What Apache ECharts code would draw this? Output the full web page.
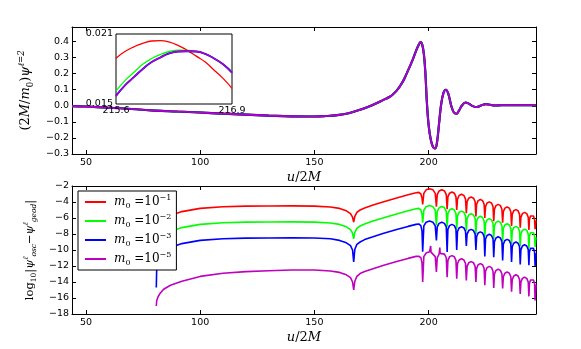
<!DOCTYPE html>
<html><head><meta charset="utf-8">
<script src="https://cdn.jsdelivr.net/npm/echarts@6/dist/echarts.min.js"></script>
<style>html,body{margin:0;padding:0;background:#fff}#c{width:581px;height:349px}</style>
</head><body><div id="c"></div>
<script>
// ---------- labels / categories ----------
const seriesNames = ['m0=1e-1', 'm0=1e-2', 'm0=1e-3', 'm0=1e-5'];
const legendExp = ['\u22121', '\u22122', '\u22123', '\u22125'];
const seriesColors = ['#ff0000', '#00ff00', '#0000ff', '#bf00bf'];
const xTicks = [50, 100, 150, 200];
const waveYTicks = [-0.3, -0.2, -0.1, 0, 0.1, 0.2, 0.3, 0.4];
const errYTicks = [-18, -16, -14, -12, -10, -8, -6, -4, -2];
const insetXTicks = [215.6, 216.9];
const insetYTicks = [0.015, 0.021];

// ---------- top panel: waveform (all four curves coincide) ----------
const waveU = [43.9, 50, 60, 70, 80, 90, 100, 110, 120, 130, 140, 150, 155, 160, 165, 170, 175, 180, 183, 184.5, 186, 187.5,
  189, 190, 191, 192, 193, 194.2, 195.5, 196.5, 197.3, 198, 198.6, 199.2, 200, 201, 202, 202.9, 203.7, 204.5, 205.4,
  206.5, 207.6, 208.7, 209.9, 211, 212.2, 213.3, 214.5, 216.1, 217.6, 219.3, 221, 223, 225, 227, 229, 232, 247];
const waveVal = [-0.002, -0.005, -0.012, -0.020, -0.030, -0.036, -0.042, -0.049, -0.055, -0.061, -0.066, -0.067, -0.064, -0.058, -0.046, -0.025, 0.002, 0.035, 0.056, 0.073, 0.094, 0.123,
  0.158, 0.188, 0.22, 0.252, 0.285, 0.33, 0.375, 0.396, 0.375, 0.31, 0.2, 0.03, -0.12, -0.215, -0.258, -0.265, -0.225, -0.12, 0.0,
  0.08, 0.1, 0.07, 0.0, -0.04, -0.05, -0.03, 0.0, 0.0205, 0.013, -0.002, -0.008, 0.002, 0.010, 0.006, 0.002, 0.003, 0.003];

// ---------- inset ----------
const insetU = [215.6, 215.7, 215.8, 215.9, 216.0, 216.1, 216.2, 216.3, 216.4, 216.5, 216.6, 216.7, 216.8, 216.9];
const insetRed = [0.01893, 0.0195, 0.0199, 0.0202, 0.0204, 0.02043, 0.0203, 0.0200, 0.0196, 0.0191, 0.0186, 0.0179, 0.0172, 0.01634];
const insetGreen = [0.01610, 0.0170, 0.0177, 0.0184, 0.0189, 0.01925, 0.0195, 0.01962, 0.0196, 0.0195, 0.0193, 0.0189, 0.0184, 0.01778];
const insetBlue = [0.01570, 0.0166, 0.0173, 0.0180, 0.0186, 0.0190, 0.01935, 0.0195, 0.01952, 0.0195, 0.0193, 0.0189, 0.0184, 0.01768];
const insetMag = [0.01568, 0.0166, 0.0173, 0.0180, 0.0186, 0.0190, 0.01935, 0.0195, 0.01952, 0.0195, 0.0193, 0.0189, 0.0184, 0.01766];

// ---------- bottom panel: log10 |psi_osc - psi_geod| ----------
const errU = [
  80.8, 81.0, 81.5, 82.5, 84, 87, 92, 100, 110, 120, 130, 140, 150,
  157, 161, 164, 165.8, 166.7, 167.2, 167.7, 168.6, 170, 172, 176,
  180, 180.4, 180.8, 186, 186.4, 186.8, 191, 194.5, 195.3, 195.7, 196.6, 197.1,
  197.4, 197.9, 198.9, 200.4, 200.75, 200.9, 201.05, 201.9, 202.9,
  203.4, 203.78, 204.58, 204.75, 204.9, 205.05, 205.75, 206.93, 207.72,
  208.1, 208.44, 209.15, 210.2, 211.25, 211.96,
  212.3, 212.64, 213.35, 214.4, 215.45, 216.16,
  216.5, 216.84, 217.55, 218.6, 219.65, 220.36,
  220.7, 221.01, 221.68, 222.65, 223.63, 224.29,
  224.6, 224.91, 225.58, 226.55, 227.53, 228.19,
  228.5, 228.81, 229.48, 230.45, 231.43, 232.09,
  232.4, 232.71, 233.38, 234.35, 235.33, 235.99,
  236.3, 236.6, 237.25, 238.2, 239.15, 239.8,
  240.1, 240.4, 241.05, 242.0, 242.95, 243.6,
  243.9, 244.12, 244.58, 245.25, 245.92, 246.38,
  246.6, 247.0];
const errRed = [
  -9.0, -7.6, -7.0, -6.6, -6.2, -5.7, -5.2, -4.8, -4.6, -4.52, -4.5, -4.49, -4.52,
  -4.62, -4.8, -5.1, -5.45, -5.9, -6.5, -5.8, -5.3, -5.0, -4.75, -4.35,
  -4.0, -3.97, -3.94, -3.5, -3.47, -3.44, -3.1, -2.85, -2.8, -2.8, -3.0, -3.5,
  -4.3, -2.93, -2.48, -2.33, -2.34, -2.35, -2.36, -2.48, -2.93,
  -4.6, -3.07, -2.62, -2.58, -2.55, -2.52, -2.47, -2.62, -3.07,
  -4.9, -3.35, -2.9, -2.75, -2.9, -3.35,
  -5.0, -3.64, -3.19, -3.04, -3.19, -3.64,
  -5.4, -3.97, -3.52, -3.37, -3.52, -3.97,
  -5.8, -4.28, -3.83, -3.68, -3.83, -4.28,
  -6.0, -4.58, -4.13, -3.98, -4.13, -4.58,
  -6.4, -4.9, -4.45, -4.3, -4.45, -4.9,
  -6.6, -5.22, -4.77, -4.62, -4.77, -5.22,
  -7.0, -5.55, -5.1, -4.95, -5.1, -5.55,
  -7.2, -5.9, -5.45, -5.3, -5.45, -5.9,
  -7.5, -6.2, -5.75, -5.6, -5.75, -6.2,
  -7.4, -6.3];
const errGreen = [
  -11.0, -9.6, -9.0, -8.6, -8.2, -7.7, -7.2, -6.8, -6.6, -6.52, -6.5, -6.49, -6.52,
  -6.62, -6.8, -7.1, -7.45, -7.9, -8.6, -7.8, -7.3, -7.0, -6.75, -6.35,
  -6.0, -5.97, -5.94, -5.5, -5.47, -5.44, -5.1, -4.85, -4.8, -4.8, -5.0, -5.5,
  -6.6, -5.03, -4.58, -4.43, -4.44, -4.45, -4.46, -4.58, -5.03,
  -6.9, -5.17, -4.72, -4.68, -4.65, -4.62, -4.57, -4.72, -5.17,
  -7.1, -5.45, -5.0, -4.85, -5.0, -5.45,
  -7.3, -5.74, -5.29, -5.14, -5.29, -5.74,
  -7.6, -6.07, -5.62, -5.47, -5.62, -6.07,
  -8.0, -6.38, -5.93, -5.78, -5.93, -6.38,
  -8.3, -6.68, -6.23, -6.08, -6.23, -6.68,
  -8.6, -7.0, -6.55, -6.4, -6.55, -7.0,
  -8.9, -7.32, -6.87, -6.72, -6.87, -7.32,
  -9.2, -7.65, -7.2, -7.05, -7.2, -7.65,
  -9.5, -8.0, -7.55, -7.4, -7.55, -8.0,
  -9.8, -8.3, -7.85, -7.7, -7.85, -8.3,
  -9.6, -8.4];
const errBlue = [
  -14.7, -12.0, -11.1, -10.6, -10.2, -9.7, -9.2, -8.8, -8.6, -8.52, -8.5, -8.48, -8.5,
  -8.6, -8.8, -9.1, -9.45, -10.0, -11.5, -9.9, -9.3, -9.0, -8.7, -8.3,
  -7.95, -7.92, -7.89, -7.45, -7.42, -7.39, -7.05, -6.8, -6.75, -6.75, -6.95, -7.6,
  -10.2, -6.98, -6.53, -6.38, -6.39, -6.4, -6.41, -6.53, -6.98,
  -8.8, -7.12, -6.67, -6.63, -6.6, -6.57, -6.52, -6.67, -7.12,
  -10.25, -7.4, -6.95, -6.8, -6.95, -7.4,
  -10.0, -7.69, -7.24, -7.09, -7.24, -7.69,
  -9.5, -8.02, -7.57, -7.42, -7.57, -8.02,
  -10.0, -8.33, -7.88, -7.73, -7.88, -8.33,
  -10.8, -8.63, -8.18, -8.03, -8.18, -8.63,
  -10.9, -8.95, -8.5, -8.35, -8.5, -8.95,
  -11.3, -9.27, -8.82, -8.67, -8.82, -9.27,
  -11.5, -9.6, -9.15, -9.0, -9.15, -9.6,
  -11.8, -9.95, -9.5, -9.35, -9.5, -9.95,
  -11.9, -10.25, -9.8, -9.65, -9.8, -10.25,
  -12.0, -10.4];
const errMag = [
  -17.0, -16.3, -15.9, -15.4, -14.9, -14.4, -13.9, -13.3, -12.9, -12.7, -12.6, -12.5, -12.5,
  -12.62, -12.8, -13.1, -13.45, -14.0, -15.0, -13.9, -13.3, -12.95, -12.7, -12.3,
  -11.95, -11.78, -11.9, -11.45, -11.28, -11.42, -11.05, -10.8, -10.55, -10.78, -10.95, -11.6,
  -14.0, -10.83, -10.38, -10.23, -10.25, -9.5, -10.27, -10.38, -10.83,
  -12.75, -10.97, -10.52, -10.48, -9.7, -10.42, -10.37, -10.52, -10.97,
  -13.4, -11.3, -10.85, -10.7, -10.85, -11.3,
  -13.6, -11.7, -11.25, -11.1, -11.25, -11.7,
  -13.8, -12.05, -11.6, -11.45, -11.6, -12.05,
  -14.0, -12.3, -11.85, -11.7, -11.85, -12.3,
  -14.4, -12.65, -12.2, -12.05, -12.2, -12.65,
  -14.75, -13.0, -12.55, -12.4, -12.55, -13.0,
  -14.8, -13.35, -12.9, -12.75, -12.9, -13.35,
  -15.2, -13.7, -13.25, -13.1, -13.25, -13.7,
  -15.5, -14.0, -13.55, -13.4, -13.55, -14.0,
  -15.8, -14.2, -13.75, -13.6, -13.75, -14.2,
  -16.3, -14.3];

// ---------- build chart ----------
const zip = (xs, ys) => xs.map((x, i) => [x, ys[i]]);
const minus = s => String(s).replace('-', '\u2212');
const TICKFONT = {fontFamily: 'DejaVu Sans', fontSize: 9.5, color: '#000'};
function mathRich(sz) {
  const sm = Math.round(sz * 0.65 * 2) / 2;
  return {
    r: {fontFamily: 'DejaVu Serif', fontSize: sz, lineHeight: sz + 5, color: '#000'},
    i: {fontFamily: 'DejaVu Serif', fontStyle: 'italic', fontSize: sz, lineHeight: sz + 5, color: '#000'},
    sp: {fontFamily: 'DejaVu Serif', fontStyle: 'italic', fontSize: sm, lineHeight: sm + 1.5, verticalAlign: 'top', color: '#000'},
    sb: {fontFamily: 'DejaVu Serif', fontStyle: 'italic', fontSize: sm, lineHeight: sm + 1.5, verticalAlign: 'bottom', color: '#000'},
    sbr: {fontFamily: 'DejaVu Serif', fontSize: sm, lineHeight: sm + 1.5, verticalAlign: 'bottom', color: '#000'}
  };
}
const axisLine = {show: true, onZero: false, lineStyle: {color: '#000', width: 1}};

function xPair(grid, min, max) {
  return [
    {type: 'value', gridIndex: grid, min: min, max: max, position: 'bottom', axisLine: axisLine,
     axisTick: {show: true, inside: true, length: 4, customValues: xTicks, lineStyle: {color: '#000'}},
     axisLabel: Object.assign({customValues: xTicks, margin: 4}, TICKFONT),
     splitLine: {show: false},
     name: '{i|u}{r|/2}{i|M}', nameLocation: 'middle', nameGap: 15,
     nameTextStyle: {rich: mathRich(13)}},
    {type: 'value', gridIndex: grid, min: min, max: max, position: 'top', axisLine: axisLine,
     axisTick: {show: true, inside: true, length: 4, customValues: xTicks, lineStyle: {color: '#000'}},
     axisLabel: {show: false}, splitLine: {show: false}}
  ];
}
function yPair(grid, min, max, ticks, fmt, name, gap, sz) {
  return [
    {type: 'value', gridIndex: grid, min: min, max: max, position: 'left', axisLine: axisLine,
     axisTick: {show: true, inside: true, length: 4, customValues: ticks, lineStyle: {color: '#000'}},
     axisLabel: Object.assign({customValues: ticks, margin: 3, formatter: fmt}, TICKFONT),
     splitLine: {show: false},
     name: name, nameLocation: 'middle', nameRotate: 90, nameGap: gap,
     nameTextStyle: {rich: mathRich(sz)}},
    {type: 'value', gridIndex: grid, min: min, max: max, position: 'right', axisLine: axisLine,
     axisTick: {show: true, inside: true, length: 4, customValues: ticks, lineStyle: {color: '#000'}},
     axisLabel: {show: false}, splitLine: {show: false}}
  ];
}

const xAxes = [].concat(xPair(0, 43.9, 247), xPair(1, 43.9, 247), [
  {type: 'value', gridIndex: 2, min: 215.6, max: 216.9, z: 12,
   axisLine: {show: false}, axisTick: {show: false}, splitLine: {show: false},
   axisLabel: Object.assign({customValues: insetXTicks, margin: 2, formatter: v => v.toFixed(1)}, TICKFONT)}
]);
const yAxes = [].concat(
  yPair(0, -0.3, 0.49, waveYTicks, v => minus(v.toFixed(1)),
        '{r|(2}{i|M}{r|/}{i|m}{sbr|0}{r|)}{i|ψ}{sp|ℓ=2}', 27, 13),
  yPair(1, -18, -2, errYTicks, v => minus(v),
        '{r|log}{sbr|10}{r||}{i|ψ}{sp|ℓ}{sb|osc}{r|−}{i|ψ}{sp|ℓ}{sb|geod}{r||}', 27, 11.5),
  [{type: 'value', gridIndex: 2, min: 0.015, max: 0.021, z: 12,
    axisLine: {show: false}, axisTick: {show: false}, splitLine: {show: false},
    axisLabel: Object.assign({customValues: insetYTicks, margin: 3, formatter: v => v.toFixed(3)}, TICKFONT)}]
);

const insetData = [insetRed, insetGreen, insetBlue, insetMag];
const errData = [errRed, errGreen, errBlue, errMag];
const series = [];
seriesNames.forEach((n, k) => {
  series.push({name: n, type: 'line', xAxisIndex: 0, yAxisIndex: 0, data: zip(waveU, waveVal),
    showSymbol: false, symbol: 'none', smooth: 0.4, z: 2,
    lineStyle: {color: seriesColors[k], width: k === 3 ? 1.6 : 2.1}, itemStyle: {color: seriesColors[k]}});
});
seriesNames.forEach((n, k) => {
  series.push({name: n, type: 'line', xAxisIndex: 2, yAxisIndex: 2, data: zip(errU, errData[k]),
    showSymbol: false, symbol: 'none', z: 2,
    lineStyle: {color: seriesColors[k], width: 1.6}, itemStyle: {color: seriesColors[k]}});
});
seriesNames.forEach((n, k) => {
  series.push({name: n, type: 'line', xAxisIndex: 4, yAxisIndex: 4, data: zip(insetU, insetData[k]),
    showSymbol: false, symbol: 'none', smooth: true, z: 11,
    lineStyle: {color: seriesColors[k], width: k === 2 ? 1.9 : 1.3}, itemStyle: {color: seriesColors[k]}});
});

const chart = echarts.init(document.getElementById('c'), null, {renderer: 'canvas'});
chart.setOption({
  animation: false,
  backgroundColor: '#fff',
  grid: [
    {left: 72, top: 27, width: 464, height: 127, show: false},
    {left: 72, top: 186, width: 464, height: 128, show: false},
    {left: 116, top: 34, width: 116, height: 70, show: true, backgroundColor: '#fff',
     borderColor: '#000', borderWidth: 1, z: 10}
  ],
  xAxis: xAxes,
  yAxis: yAxes,
  legend: {
    data: seriesNames, orient: 'vertical', left: 78, top: 191,
    backgroundColor: '#fff', borderColor: '#000', borderWidth: 1, borderRadius: 0,
    padding: [3, 5, 3, 7], itemGap: 3, itemWidth: 21, itemHeight: 2, icon: 'rect',
    selectedMode: false, z: 20,
    formatter: name => {
      const k = seriesNames.indexOf(name);
      return '{m|m}{s|0}{t| =10}{p|' + legendExp[k] + '}';
    },
    textStyle: {
      color: '#000',
      rich: {
        m: {fontFamily: 'DejaVu Serif', fontStyle: 'italic', fontSize: 12, lineHeight: 16, padding: [0, 0, 0, 3], color: '#000'},
        s: {fontFamily: 'DejaVu Serif', fontSize: 8, lineHeight: 10, verticalAlign: 'bottom', color: '#000'},
        t: {fontFamily: 'DejaVu Serif', fontSize: 12, lineHeight: 16, color: '#000'},
        p: {fontFamily: 'DejaVu Serif', fontSize: 8, lineHeight: 10, verticalAlign: 'top', color: '#000'}
      }
    }
  },
  series: series
});
</script>
</body></html>
